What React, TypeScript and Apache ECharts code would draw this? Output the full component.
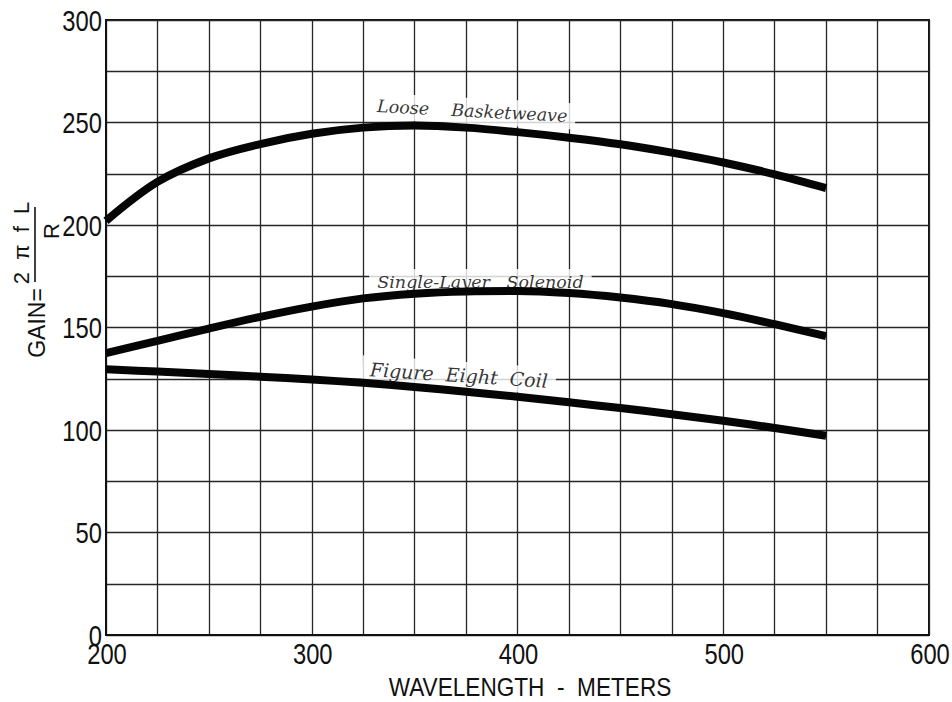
import React, { useEffect, useRef } from "react";
import * as echarts from "echarts";

// ---- data ----
const wavelengths = [200, 225, 250, 275, 300, 325, 350, 375, 400, 425, 450, 475, 500, 525, 550];
const looseBasketweave = [202, 221, 232.5, 239.5, 244.5, 247.5, 248.5, 247.5, 245.3, 242.6, 239.4, 235.3, 230.5, 224.7, 218];
const singleLayerSolenoid = [137.5, 143.5, 149.5, 155.2, 160.2, 164.2, 166.5, 167.6, 167.8, 166.8, 164.6, 161.4, 157, 151.6, 145.8];
const figureEightCoil = [129.6, 128.5, 127.3, 126, 124.6, 123, 121, 118.7, 116.2, 113.5, 110.7, 107.7, 104.5, 101, 97.2];

const seriesNames = ["Loose Basketweave", "Single-Layer Solenoid", "Figure Eight Coil"];
const labelX = [378, 382, 371.5];
const labelY = [255.6, 172.2, 126.8];
const labelRotate = [-3, 0, -3.7];
const labelText = [
  "Loose\u00a0\u00a0\u00a0\u00a0Basketweave",
  "Single-Layer\u00a0\u00a0\u00a0Solenoid",
  "Figure\u00a0\u00a0Eight\u00a0\u00a0Coil",
];
const labelSize = [17.5, 17.5, 19];

const xLabelValues = [200, 300, 400, 500, 600];
const yLabelValues = [0, 50, 100, 150, 200, 250, 300];

const xTitle = "WAVELENGTH\u00a0\u00a0-\u00a0\u00a0METERS";

const SANS = "'Liberation Sans', Arial, Helvetica, sans-serif";
const SERIF = "'DejaVu Serif', 'Liberation Serif', serif";

export default function App() {
  const ref = useRef<HTMLDivElement>(null);

  useEffect(() => {
    if (!ref.current) return;
    const chart = echarts.init(ref.current, undefined, { renderer: "svg" });

    const curves = [looseBasketweave, singleLayerSolenoid, figureEightCoil];

    const lineSeries = curves.map((vals, i) => ({
      type: "line",
      name: seriesNames[i],
      data: wavelengths.map((w, j) => [w, vals[j]]),
      smooth: 0.35,
      symbol: "none",
      z: 3,
      lineStyle: { color: "#050505", width: 8, cap: "butt" },
    }));

    const labelSeries = {
      type: "scatter",
      name: "labels",
      z: 1,
      symbolSize: 0,
      silent: true,
      data: seriesNames.map((n, i) => ({
        name: n,
        value: [labelX[i], labelY[i]],
        label: {
          show: true,
          position: "inside",
          rotate: labelRotate[i],
          formatter: labelText[i],
          fontSize: labelSize[i],
        },
      })),
      label: {
        show: true,
        color: "#000",
        fontFamily: SERIF,
        fontStyle: "italic",
        backgroundColor: "#ffffff",
        padding: [5, 8, 3, 8],
      },
    };

    const baseGraphics: any[] = [
      {
        type: "text",
        x: 530,
        y: 687,
        scaleX: 0.87,
        style: {
          text: xTitle,
          align: "center",
          verticalAlign: "middle",
          fontFamily: SANS,
          fontSize: 26,
          fill: "#111",
        },
      },
      {
        type: "text",
        x: 37,
        y: 323,
        rotation: Math.PI / 2,
        style: {
          text: "GAIN=",
          align: "center",
          verticalAlign: "middle",
          fontFamily: SANS,
          fontSize: 23,
          fill: "#111",
        },
      },
      {
        type: "text",
        x: 21,
        y: 243,
        rotation: Math.PI / 2,
        style: {
          text: "2\u00a0\u00a0\u03c0\u00a0\u00a0f\u00a0\u00a0L",
          align: "center",
          verticalAlign: "middle",
          fontFamily: SANS,
          fontSize: 22,
          fill: "#111",
        },
      },
      {
        type: "line",
        shape: { x1: 35, y1: 207, x2: 35, y2: 282 },
        style: { stroke: "#111", lineWidth: 1.6 },
      },
      {
        type: "text",
        x: 51,
        y: 231,
        rotation: Math.PI / 2,
        style: {
          text: "R",
          align: "center",
          verticalAlign: "middle",
          fontFamily: SANS,
          fontSize: 22,
          fill: "#111",
        },
      },
    ];

    const option: any = {
      animation: false,
      backgroundColor: "#ffffff",
      grid: {
        left: 106,
        top: 20,
        right: 23,
        bottom: 67,
        show: true,
        borderColor: "#111",
        borderWidth: 2,
        backgroundColor: "transparent",
      },
      xAxis: {
        type: "value",
        min: 200,
        max: 600,
        interval: 25,
        axisLine: { show: true, lineStyle: { color: "#111", width: 2 } },
        axisTick: { show: false },
        splitLine: { show: true, lineStyle: { color: "#262626", width: 1.3 } },
        axisLabel: { show: false },
      },
      yAxis: {
        type: "value",
        min: 0,
        max: 300,
        interval: 25,
        axisLine: { show: true, lineStyle: { color: "#111", width: 2 } },
        axisTick: { show: false },
        splitLine: { show: true, lineStyle: { color: "#262626", width: 1.3 } },
        axisLabel: { show: false },
      },
      graphic: baseGraphics,
      series: [labelSeries, ...lineSeries],
    };

    chart.setOption(option);

    // tick labels placed through the axes' own scales (condensed look via scaleX)
    const tickGraphics: any[] = [];
    xLabelValues.forEach((v) => {
      const p = chart.convertToPixel({ gridIndex: 0 }, [v, 0]) as number[];
      tickGraphics.push({
        type: "text",
        x: p[0] + 1,
        y: p[1] + 19,
        scaleX: 0.82,
        style: {
          text: String(v),
          align: "center",
          verticalAlign: "middle",
          fontFamily: SANS,
          fontSize: 29,
          fill: "#111",
        },
      });
    });
    yLabelValues.forEach((v) => {
      const p = chart.convertToPixel({ gridIndex: 0 }, [200, v]) as number[];
      tickGraphics.push({
        type: "text",
        x: p[0] - 4,
        y: p[1] + 1,
        scaleX: 0.82,
        style: {
          text: String(v),
          align: "right",
          verticalAlign: "middle",
          fontFamily: SANS,
          fontSize: 29,
          fill: "#111",
        },
      });
    });

    chart.setOption({ graphic: [...baseGraphics, ...tickGraphics] });

    return () => chart.dispose();
  }, []);

  return (
    <div
      ref={ref}
      style={{ position: "fixed", left: 0, top: 0, width: 952, height: 702, background: "#fff" }}
    />
  );
}
